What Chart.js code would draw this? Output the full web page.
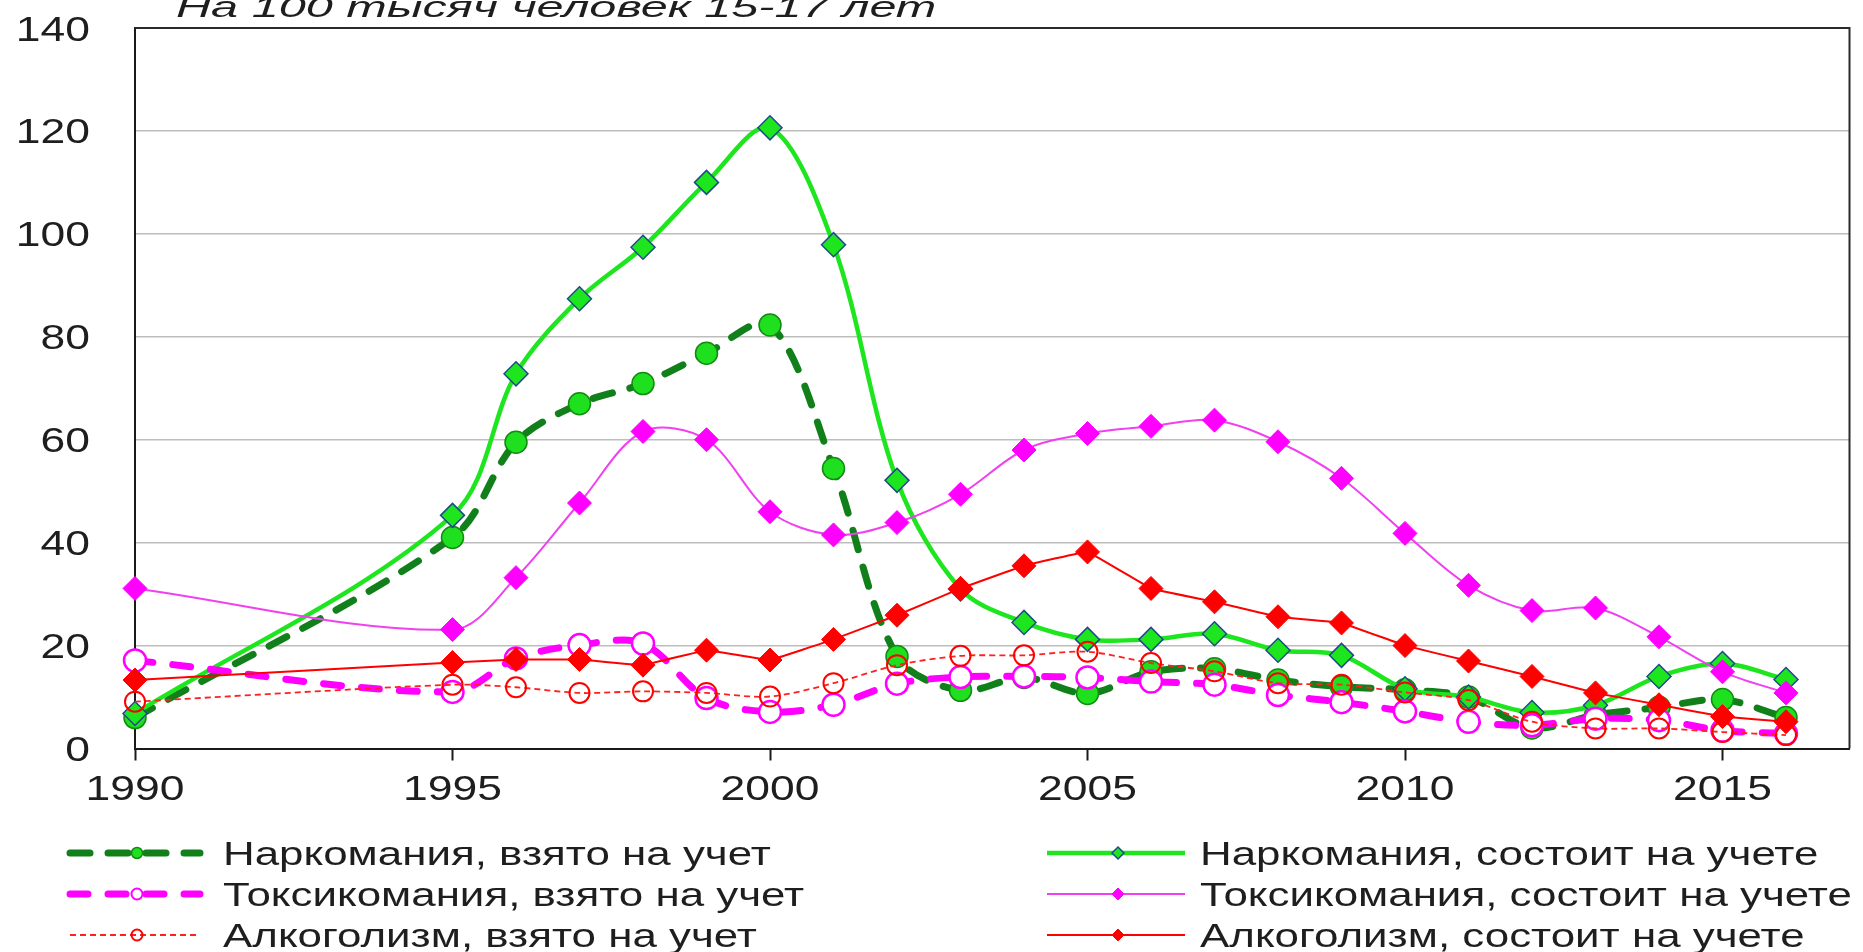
<!DOCTYPE html>
<html lang="ru">
<head>
<meta charset="utf-8">
<title>Наркомания, токсикомания, алкоголизм у подростков 15-17 лет</title>
<script src="https://cdn.jsdelivr.net/npm/chart.js@4.4.1/dist/chart.umd.min.js"></script>
<style>
  html, body { margin: 0; padding: 0; background: #fff; }
  #wrap { position: relative; width: 1863px; height: 952px; }
</style>
</head>
<body>
<div id="wrap"><canvas id="chart"></canvas></div>
<script>
// Years (1991-1994 are not in the source data)
const years = [1990, 1995, 1996, 1997, 1998, 1999, 2000, 2001, 2002, 2003, 2004, 2005,
               2006, 2007, 2008, 2009, 2010, 2011, 2012, 2013, 2014, 2015, 2016];

// Values per 100 thousand people aged 15-17
const narkoVzyato  = [6.0, 41.0, 59.5, 67.0, 70.9, 76.8, 82.3, 54.4, 17.9, 11.3, 13.8, 10.7,
                      14.9, 15.5, 13.3, 12.0, 11.4, 10.0, 4.0, 6.5, 8.0, 9.5, 6.0];
const narkoSostoit = [6.8, 45.3, 72.8, 87.4, 97.4, 110.0, 120.6, 97.9, 52.1, 31.0, 24.5, 21.2,
                      21.2, 22.3, 19.1, 18.1, 11.6, 10.0, 7.0, 8.4, 14.0, 16.5, 13.4];
const toksVzyato   = [17.1, 11.0, 17.5, 20.1, 20.4, 9.8, 7.1, 8.5, 12.6, 13.9, 14.0, 13.8,
                      13.0, 12.4, 10.4, 9.0, 7.2, 5.2, 4.5, 5.8, 5.5, 3.5, 2.9];
const toksSostoit  = [31.1, 23.1, 33.2, 47.7, 61.6, 60.0, 46.0, 41.5, 43.9, 49.4, 58.0, 61.2,
                      62.6, 63.8, 59.6, 52.5, 41.8, 31.7, 26.8, 27.3, 21.7, 14.9, 10.8];
const alkoVzyato   = [9.1, 12.4, 11.9, 10.8, 11.1, 10.8, 10.1, 12.7, 16.2, 18.0, 18.1, 18.8,
                      16.6, 15.0, 12.7, 12.4, 10.9, 9.4, 5.2, 3.9, 3.9, 3.2, 2.6];
const alkoSostoit  = [13.3, 16.7, 17.3, 17.3, 16.2, 19.1, 17.2, 21.2, 25.9, 31.1, 35.5, 38.2,
                      31.1, 28.5, 25.6, 24.4, 20.0, 17.0, 14.0, 10.8, 8.5, 6.2, 5.2];

const seriesNames = [
  'Наркомания, взято на учет',
  'Наркомания, состоит на учете',
  'Токсикомания, взято на учет',
  'Токсикомания, состоит на учете',
  'Алкоголизм, взято на учет',
  'Алкоголизм, состоит на учете'
];

const xTicks = [1990, 1995, 2000, 2005, 2010, 2015];
const yTicks = [0, 20, 40, 60, 80, 100, 120, 140];
const titleText = 'На 100 тысяч человек 15-17 лет';

const FONT = '"Liberation Sans", Arial, sans-serif';

function toPoints(values) {
    return years.map((yr, i) => ({ x: yr, y: values[i] }));
}

// the source picture is stretched sideways, so text is drawn a bit wider
function wideText(ctx, text, x, y, align, sx) {
    ctx.save();
    ctx.translate(x, y);
    ctx.scale(sx, 1);
    ctx.textAlign = align;
    ctx.fillText(text, 0, 0);
    ctx.restore();
}

// top and right sides of the plot box
const framePlugin = {
    id: 'frame',
    beforeDatasetsDraw(chart) {
        const { ctx, chartArea: a } = chart;
        ctx.save();
        ctx.strokeStyle = '#2a2a2a';
        ctx.lineWidth = 2;
        ctx.beginPath();
        ctx.moveTo(a.left, a.top);
        ctx.lineTo(a.right, a.top);
        ctx.lineTo(a.right, a.bottom);
        ctx.stroke();
        ctx.restore();
    }
};

// tick labels, the cut-off title and the two-column legend
const textPlugin = {
    id: 'texts',
    afterDraw(chart) {
        const { ctx, chartArea: a } = chart;
        const xs = chart.scales.x, ys = chart.scales.y;
        ctx.save();
        ctx.fillStyle = '#1e1e1e';
        ctx.textBaseline = 'alphabetic';

        // axis labels
        ctx.font = '35px ' + FONT;
        ys.ticks.forEach(t => wideText(ctx, String(t.value), a.left - 45, ys.getPixelForValue(t.value) + 12.5, 'right', 1.27));
        xs.ticks.forEach(t => wideText(ctx, String(t.value), xs.getPixelForValue(t.value), a.bottom + 51, 'center', 1.27));

        // title (its top is cut by the picture edge)
        ctx.font = 'italic 30px ' + FONT;
        wideText(ctx, titleText, 176, 17, 'left', 1.62);

        // legend
        chart.data.datasets.forEach((ds, i) => {
            const col = i % 2, row = Math.floor(i / 2);
            const x0 = col ? 1047 : 70;
            const x1 = col ? 1185 : 200;
            const mx = col ? 1118 : 137;
            const tx = col ? 1200 : 223;
            const y = 853 + row * 41;

            ctx.save();
            ctx.strokeStyle = ds.borderColor;
            ctx.lineWidth = ds.borderWidth;
            ctx.lineCap = ds.borderCapStyle || 'butt';
            ctx.setLineDash(ds.borderDash || []);
            ctx.beginPath();
            ctx.moveTo(x0, y);
            ctx.lineTo(x1, y);
            ctx.stroke();
            ctx.setLineDash([]);

            ctx.fillStyle = ds.pointBackgroundColor;
            ctx.strokeStyle = ds.pointBorderColor;
            ctx.lineWidth = Math.min(ds.pointBorderWidth, 2);
            ctx.beginPath();
            if (ds.pointStyle === 'rectRot') {
                ctx.moveTo(mx - 6, y);
                ctx.lineTo(mx, y - 6);
                ctx.lineTo(mx + 6, y);
                ctx.lineTo(mx, y + 6);
                ctx.closePath();
            } else {
                ctx.arc(mx, y, 5.5, 0, Math.PI * 2);
            }
            ctx.fill();
            ctx.stroke();
            ctx.restore();

            ctx.font = '33px ' + FONT;
            ctx.fillStyle = '#1e1e1e';
            wideText(ctx, ds.label, tx, y + 12, 'left', 1.33);
        });
        ctx.restore();
    }
};

const ctx = document.getElementById('chart').getContext('2d');
new Chart(ctx, {
    type: 'line',
    data: {
        datasets: [
            {
                label: seriesNames[0],
                data: toPoints(narkoVzyato),
                borderColor: '#11801a',
                borderWidth: 7,
                borderDash: [20, 18],
                borderCapStyle: 'round',
                tension: 0.33,
                pointStyle: 'circle',
                pointRadius: 11,
                pointBackgroundColor: '#1fe01f',
                pointBorderColor: '#138a13',
                pointBorderWidth: 1.5,
                order: 6
            },
            {
                label: seriesNames[1],
                data: toPoints(narkoSostoit),
                borderColor: '#1ee61e',
                borderWidth: 4.5,
                tension: 0.33,
                pointStyle: 'rectRot',
                pointRadius: 12,
                pointBackgroundColor: '#1ee61e',
                pointBorderColor: '#1f4a8a',
                pointBorderWidth: 1.5,
                order: 5
            },
            {
                label: seriesNames[2],
                data: toPoints(toksVzyato),
                borderColor: '#ff00ff',
                borderWidth: 7,
                borderDash: [18, 20],
                borderCapStyle: 'round',
                tension: 0.33,
                pointStyle: 'circle',
                pointRadius: 11,
                pointBackgroundColor: '#ffffff',
                pointBorderColor: '#ff00ff',
                pointBorderWidth: 2.5,
                order: 4
            },
            {
                label: seriesNames[3],
                data: toPoints(toksSostoit),
                borderColor: '#f040f0',
                borderWidth: 2,
                tension: 0.33,
                pointStyle: 'rectRot',
                pointRadius: 12,
                pointBackgroundColor: '#ff00ff',
                pointBorderColor: '#ff00ff',
                pointBorderWidth: 1,
                order: 3
            },
            {
                label: seriesNames[4],
                data: toPoints(alkoVzyato),
                borderColor: '#ff2020',
                borderWidth: 1.8,
                borderDash: [6, 4],
                tension: 0.3,
                pointStyle: 'circle',
                pointRadius: 10,
                pointBackgroundColor: 'rgba(255,255,255,0)',
                pointBorderColor: '#ff0000',
                pointBorderWidth: 2,
                order: 2
            },
            {
                label: seriesNames[5],
                data: toPoints(alkoSostoit),
                borderColor: '#ff0000',
                borderWidth: 2,
                tension: 0.05,
                pointStyle: 'rectRot',
                pointRadius: 12,
                pointBackgroundColor: '#ff0000',
                pointBorderColor: '#ff0000',
                pointBorderWidth: 1,
                order: 1
            }
        ]
    },
    options: {
        responsive: true,
        maintainAspectRatio: false,
        animation: false,
        events: [],
        datasets: {
            line: { clip: false, fill: false }
        },
        layout: {
            padding: { top: 28, right: 4, left: 0, bottom: 0 }
        },
        plugins: {
            legend: { display: false },
            tooltip: { enabled: false }
        },
        scales: {
            x: {
                type: 'linear',
                min: 1990,
                max: 2017,
                afterBuildTicks: s => { s.ticks = xTicks.map(v => ({ value: v })); },
                afterFit: s => { s.height = 203.5; },
                ticks: { display: false },
                grid: {
                    drawOnChartArea: false,
                    drawTicks: true,
                    tickLength: 12,
                    tickColor: '#1a1a1a',
                    tickWidth: 2
                },
                border: { color: '#1a1a1a', width: 2 }
            },
            y: {
                min: 0,
                max: 140,
                afterBuildTicks: s => { s.ticks = yTicks.map(v => ({ value: v })); },
                afterFit: s => { s.width = 135; },
                ticks: { display: false },
                grid: { color: '#bdbdbd', lineWidth: 1.5, drawTicks: false },
                border: { color: '#1a1a1a', width: 2 }
            }
        }
    },
    plugins: [framePlugin, textPlugin]
});
</script>
</body>
</html>
